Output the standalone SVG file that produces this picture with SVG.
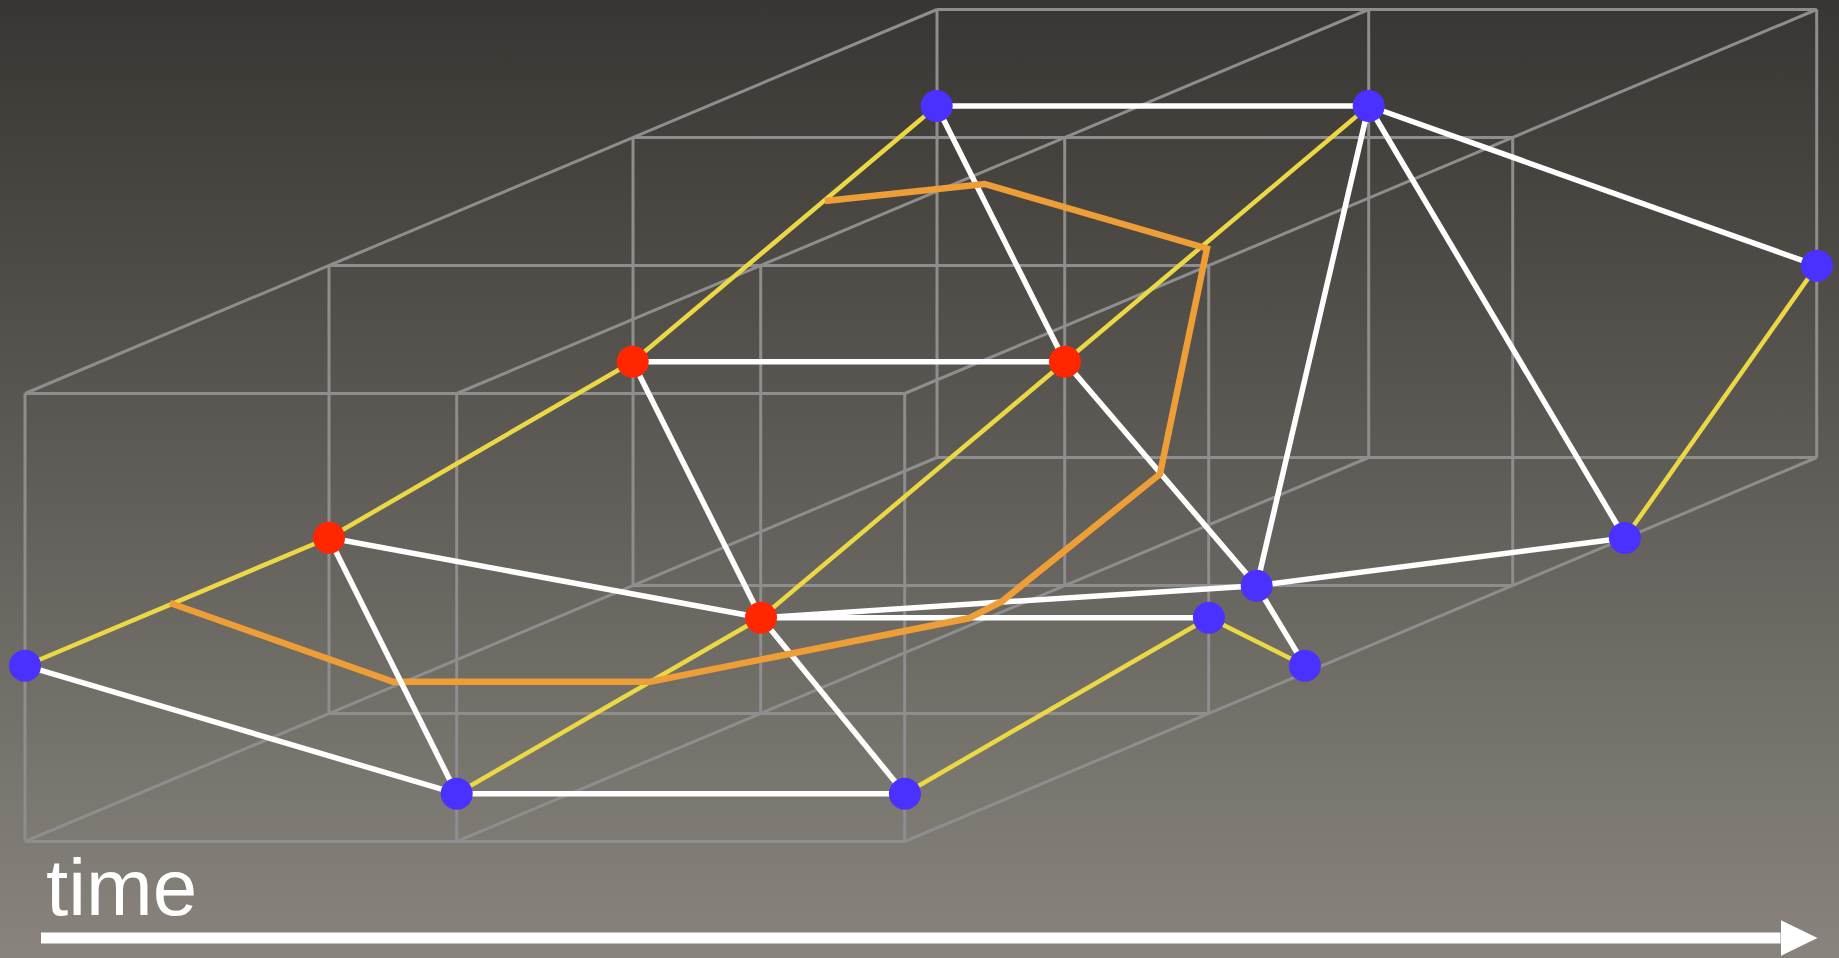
<svg xmlns="http://www.w3.org/2000/svg" width="1839" height="958" viewBox="0 0 1839 958">
<defs>
<linearGradient id="bg" x1="0" y1="0" x2="0" y2="1">
<stop offset="0" stop-color="#383532"/>
<stop offset="1" stop-color="#88847d"/>
</linearGradient>
<marker id="arrowhead" markerUnits="userSpaceOnUse" markerWidth="38" markerHeight="36" refX="0" refY="18" orient="auto">
<path d="M0,0 L37,18 L0,36 Z" fill="#ffffff"/>
</marker>
<style>
.grid line{stroke:#8e8e8e;stroke-width:3;fill:none}
.w{stroke:#ffffff;stroke-width:5.5;fill:none}
.y{stroke:#ecd845;stroke-width:4.5;fill:none}
.o{stroke:#ee9e37;stroke-width:6.5;fill:none;stroke-linejoin:miter}
.blue{fill:#4a31ff}
.red{fill:#ff2600}
.lbl{font-family:"Liberation Sans",Arial,sans-serif;font-size:80px;fill:#ffffff}
</style>
</defs>
<rect x="0" y="0" width="1839" height="958" fill="url(#bg)"/>

<g id="grid" class="grid">
<!-- layer 0 -->
<line x1="25" y1="393.5" x2="904.7" y2="393.5"/>
<line x1="25" y1="841.5" x2="904.7" y2="841.5"/>
<line x1="25" y1="393.5" x2="25" y2="841.5"/>
<line x1="456.7" y1="393.5" x2="456.7" y2="841.5"/>
<line x1="904.7" y1="393.5" x2="904.7" y2="841.5"/>
<!-- layer 1 -->
<line x1="329" y1="265.5" x2="1208.7" y2="265.5"/>
<line x1="329" y1="713.5" x2="1208.7" y2="713.5"/>
<line x1="329" y1="265.5" x2="329" y2="713.5"/>
<line x1="760.7" y1="265.5" x2="760.7" y2="713.5"/>
<line x1="1208.7" y1="265.5" x2="1208.7" y2="713.5"/>
<!-- layer 2 -->
<line x1="633" y1="137.5" x2="1512.7" y2="137.5"/>
<line x1="633" y1="585.5" x2="1512.7" y2="585.5"/>
<line x1="633" y1="137.5" x2="633" y2="585.5"/>
<line x1="1064.7" y1="137.5" x2="1064.7" y2="585.5"/>
<line x1="1512.7" y1="137.5" x2="1512.7" y2="585.5"/>
<!-- layer 3 -->
<line x1="937" y1="9.5" x2="1816.7" y2="9.5"/>
<line x1="937" y1="457.5" x2="1816.7" y2="457.5"/>
<line x1="937" y1="9.5" x2="937" y2="457.5"/>
<line x1="1368.7" y1="9.5" x2="1368.7" y2="457.5"/>
<line x1="1816.7" y1="9.5" x2="1816.7" y2="457.5"/>
<!-- depth lines -->
<line x1="25" y1="393.5" x2="937" y2="9.5"/>
<line x1="456.7" y1="393.5" x2="1368.7" y2="9.5"/>
<line x1="904.7" y1="393.5" x2="1816.7" y2="9.5"/>
<line x1="25" y1="841.5" x2="937" y2="457.5"/>
<line x1="456.7" y1="841.5" x2="1368.7" y2="457.5"/>
<line x1="904.7" y1="841.5" x2="1816.7" y2="457.5"/>
</g>

<g id="connectors">
<g id="white-edges">
<line class="w" x1="25" y1="665.7" x2="456.7" y2="793.7"/>
<line class="w" x1="456.7" y1="793.7" x2="904.9" y2="793.7"/>
<line class="w" x1="329" y1="537.7" x2="761" y2="617.7"/>
<line class="w" x1="632.7" y1="361.7" x2="1065" y2="361.7"/>
<line class="w" x1="632.7" y1="361.7" x2="761" y2="617.7"/>
<line class="w" x1="761" y1="617.7" x2="904.9" y2="793.7"/>
<line class="w" x1="761" y1="617.7" x2="1208.9" y2="617.7"/>
<line class="w" x1="761" y1="617.7" x2="1256.7" y2="585.7"/>
<line class="w" x1="1256.7" y1="585.7" x2="1624.9" y2="538"/>
<line class="w" x1="936.7" y1="106" x2="1368.7" y2="106"/>
<line class="w" x1="936.7" y1="106" x2="1065" y2="361.7"/>
<line class="w" x1="1065" y1="361.7" x2="1256.7" y2="585.7"/>
<line class="w" x1="1256.7" y1="585.7" x2="1304.9" y2="665.7"/>
<line class="w" x1="1368.7" y1="106" x2="1256.7" y2="585.7"/>
<line class="w" x1="1368.7" y1="106" x2="1624.9" y2="538"/>
<line class="w" x1="1368.7" y1="106" x2="1817" y2="265.7"/>
</g>
<g id="yellow-edges">
<line class="y" x1="25" y1="665.7" x2="329" y2="537.7"/>
<line class="y" x1="329" y1="537.7" x2="632.7" y2="361.7"/>
<line class="y" x1="632.7" y1="361.7" x2="936.7" y2="106"/>
<line class="y" x1="456.7" y1="793.7" x2="761" y2="617.7"/>
<line class="y" x1="761" y1="617.7" x2="1065" y2="361.7"/>
<line class="y" x1="1065" y1="361.7" x2="1368.7" y2="106"/>
<line class="y" x1="904.9" y1="793.7" x2="1208.9" y2="617.7"/>
<line class="y" x1="1208.9" y1="617.7" x2="1304.9" y2="665.7"/>
<line class="y" x1="1624.9" y1="538" x2="1817" y2="265.7"/>
</g>
<polyline id="orange-path" class="o" points="170,603 393,681.7 650,681.7 968.5,618.3 1001.5,601.7 1160,474 1207,248.5 984.5,184 825,201"/>
<line class="w" x1="329" y1="537.7" x2="456.7" y2="793.7"/>
<line id="time-axis" x1="41" y1="938" x2="1780.5" y2="938" stroke="#ffffff" stroke-width="11" marker-end="url(#arrowhead)"/>
</g>

<g id="nodes">
<circle id="b1" class="blue" cx="25" cy="665.7" r="16"/>
<circle id="b2" class="blue" cx="456.7" cy="793.7" r="16"/>
<circle id="b3" class="blue" cx="904.9" cy="793.7" r="16"/>
<circle id="b4" class="blue" cx="1208.9" cy="617.7" r="16"/>
<circle id="b5" class="blue" cx="1256.7" cy="585.7" r="16"/>
<circle id="b6" class="blue" cx="1304.9" cy="665.7" r="16"/>
<circle id="b7" class="blue" cx="1624.9" cy="538" r="16"/>
<circle id="b8" class="blue" cx="1817" cy="265.7" r="16"/>
<circle id="b9" class="blue" cx="1368.7" cy="106" r="16"/>
<circle id="b10" class="blue" cx="936.7" cy="106" r="16"/>
<circle id="r1" class="red" cx="329" cy="537.7" r="16"/>
<circle id="r2" class="red" cx="632.7" cy="361.7" r="16"/>
<circle id="r3" class="red" cx="761" cy="617.7" r="16"/>
<circle id="r4" class="red" cx="1065" cy="361.7" r="16"/>
</g>

<g id="label-time">
<text class="lbl" x="46" y="915">time</text>
</g>
</svg>
